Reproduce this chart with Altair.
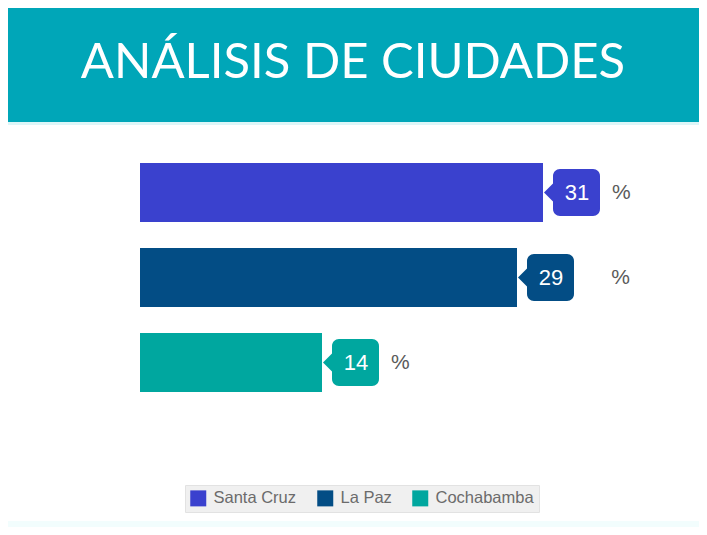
import altair as alt
import pandas as pd

cities = ["Santa Cruz", "La Paz", "Cochabamba"]
values = [31, 29, 14]
suffixes = ["%", "\u200b\u2003\u2009%", "%"]
colors = ["#3A41CE", "#034D85", "#00A79F"]
title_text = "ANÁLISIS DE CIUDADES"

df = pd.DataFrame({"city": cities, "value": values, "suffix": suffixes})

W, H = 691, 519

x_scale = alt.Scale(domain=[0, 10], range=[132, 262])
y_scale = alt.Scale(domain=cities, range=[142, 397], paddingInner=0.306, paddingOuter=0.153)
color_scale = alt.Scale(domain=cities, range=colors)

base = alt.Chart(df)
deco = pd.DataFrame({"t": [title_text]})

header = alt.Chart(deco).mark_rect(color="#00A6B8").encode(
    x=alt.value(-3), x2=alt.value(W), y=alt.value(0), y2=alt.value(114)
)
header_line = alt.Chart(deco).mark_rect(color="#DDF6F8").encode(
    x=alt.value(-3), x2=alt.value(W), y=alt.value(114), y2=alt.value(117)
)
bottom_strip = alt.Chart(deco).mark_rect(color="#F2FDFD").encode(
    x=alt.value(-3), x2=alt.value(W), y=alt.value(513), y2=alt.value(H)
)
title = alt.Chart(deco).mark_text(
    font="Lato", fontSize=49, color="white", align="center", baseline="middle"
).encode(text="t:N", x=alt.value(345), y=alt.value(55))

bars = base.mark_bar().encode(
    x=alt.X("value:Q", scale=x_scale, axis=None),
    x2=alt.datum(0),
    y=alt.Y("city:N", scale=y_scale, axis=None, sort=cities),
    color=alt.Color(
        "city:N",
        scale=color_scale,
        sort=cities,
        legend=alt.Legend(
            title=None,
            orient="none",
            legendX=177,
            legendY=477,
            direction="horizontal",
            symbolType="square",
            symbolSize=256,
            symbolStrokeWidth=0,
            symbolOpacity=1,
            labelFont="Liberation Sans",
            labelFontSize=16.5,
            labelColor="#6B6B6B",
            labelOffset=7,
            columnPadding=20,
            fillColor="#F0F0F0",
            strokeColor="#E2E2E2",
            padding=5,
        ),
    ),
)

callout = base.mark_bar(height=47, cornerRadius=7, xOffset=10, x2Offset=57).encode(
    x=alt.X("value:Q", scale=x_scale),
    x2="value:Q",
    y=alt.Y("city:N", scale=y_scale, sort=cities),
    color=alt.Color("city:N", scale=color_scale, legend=None),
)

pointer = base.mark_point(
    shape="M 0.5 -1 L -0.5 0 L 0.5 1 Z", filled=True, opacity=1, size=400, xOffset=6
).encode(
    x=alt.X("value:Q", scale=x_scale),
    y=alt.Y("city:N", scale=y_scale, sort=cities),
    color=alt.Color("city:N", scale=color_scale, legend=None),
)

nums = base.mark_text(
    font="Liberation Sans", fontSize=22, color="white", align="center", baseline="middle", dx=34
).encode(
    x=alt.X("value:Q", scale=x_scale),
    y=alt.Y("city:N", scale=y_scale, sort=cities),
    text="value:Q",
)

pct = base.mark_text(
    font="Liberation Sans", fontSize=21, color="#5A5A5A", align="left", baseline="middle", dx=69
).encode(
    x=alt.X("value:Q", scale=x_scale),
    y=alt.Y("city:N", scale=y_scale, sort=cities),
    text="suffix:N",
)

chart = (
    alt.layer(header, header_line, bottom_strip, title, bars, callout, pointer, nums, pct)
    .properties(width=W, height=H, padding=0, autosize=alt.AutoSizeParams(type="none"))
    .configure_view(stroke=None)
)

chart.save("out.html", embed_options={"renderer": "svg", "actions": False})
